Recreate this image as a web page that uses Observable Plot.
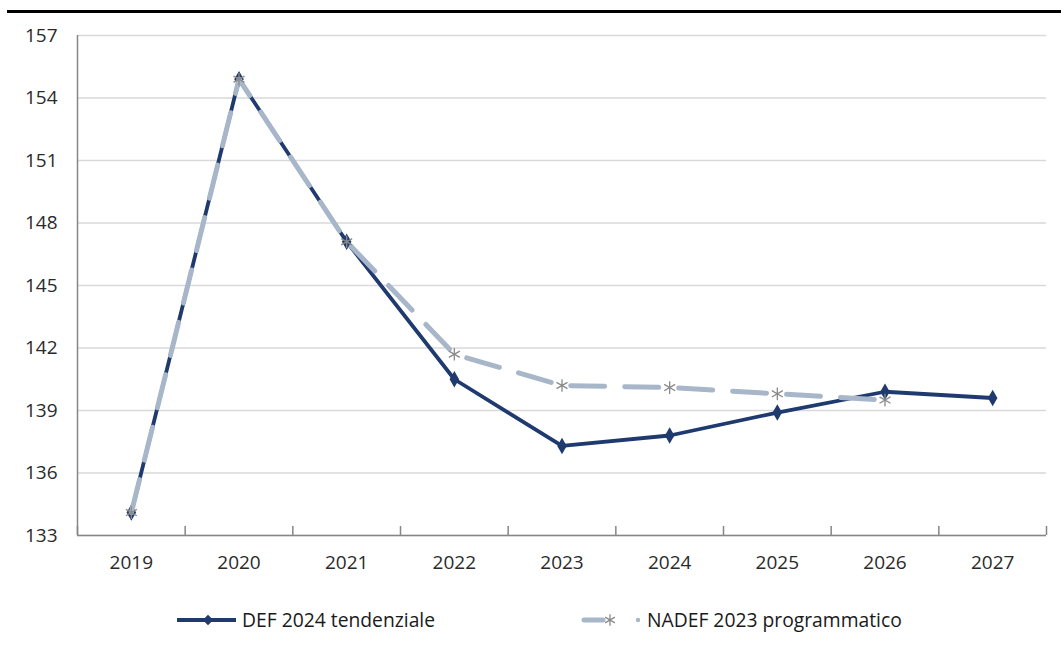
<!DOCTYPE html>
<html><head><meta charset="utf-8">
<script src="https://cdn.jsdelivr.net/npm/d3@7"></script>
<script src="https://cdn.jsdelivr.net/npm/@observablehq/plot@0.6"></script>
<style>
body{margin:0;background:#fff;font-family:"Open Sans",sans-serif;width:1061px;height:650px;position:relative;overflow:hidden;}
#rule{position:absolute;left:7px;right:0;top:10px;height:2.5px;background:#000;}
#chart{position:absolute;left:0;top:15px;}
#legend{position:absolute;top:600px;left:0;}
</style></head><body>
<div id="rule"></div><div id="chart"></div><svg id="legend" width="1061" height="40"></svg>
<script>
const years = [2019, 2020, 2021, 2022, 2023, 2024, 2025, 2026, 2027];
const def2024 = [134.1, 154.9, 147.1, 140.5, 137.3, 137.8, 138.9, 139.9, 139.6];
const nadef2023 = [134.1, 154.9, 147.1, 141.7, 140.2, 140.1, 139.8, 139.5];
const yTicks = [133, 136, 139, 142, 145, 148, 151, 154, 157];
const seriesNames = ["DEF 2024 tendenziale", "NADEF 2023 programmatico"];
const colors = {def: "#1f3a6e", nadef: "#a8b6ca", star: "#8a8a8a"};

const defData = years.map((yr, i) => ({year: yr, value: def2024[i]}));
const nadefData = nadef2023.map((v, i) => ({year: years[i], value: v}));
const x0 = years[0] - 0.5, x1 = years[years.length - 1] + 0.5;
const bounds = years.map(y => y - 0.5).concat([x1]);

const plot = Plot.plot({
  width: 1061, height: 575,
  marginTop: 20, marginBottom: 55, marginLeft: 77, marginRight: 15,
  style: {fontFamily: "Open Sans", fontSize: "19px", color: "#2a2a2a", background: "#fff"},
  x: {type: "linear", domain: [x0, x1]},
  y: {domain: [yTicks[0], yTicks[yTicks.length - 1]]},
  marks: [
    Plot.gridY(yTicks, {stroke: "#d9d9d9", strokeOpacity: 1, strokeWidth: 1.3}),
    Plot.axisY(yTicks, {tickSize: 0, tickPadding: 20, label: null, fill: "#2a2a2a"}),
    Plot.axisX(years, {tickSize: 0, tickPadding: 20, tickFormat: d => String(d), label: null, fill: "#2a2a2a"}),
    Plot.axisX(bounds, {tickSize: -9, tickFormat: () => "", stroke: "#868686", strokeWidth: 1.5, label: null}),
    Plot.ruleX([x0], {stroke: "#868686", strokeWidth: 1.5}),
    Plot.ruleY([yTicks[0]], {stroke: "#868686", strokeWidth: 1.5}),
    Plot.line(defData, {x: "year", y: "value", stroke: colors.def, strokeWidth: 3.8}),
    Plot.dot(defData, {x: "year", y: "value", symbol: "diamond", r: 5, fill: colors.def, stroke: "none"}),
    Plot.line(nadefData, {x: "year", y: "value", stroke: colors.nadef, strokeWidth: 5, strokeDasharray: "34,20", strokeLinecap: "round"}),
    Plot.dot(nadefData, {x: "year", y: "value", symbol: "asterisk", r: 6, stroke: colors.star, strokeWidth: 1.3})
  ]
});
document.getElementById("chart").appendChild(plot);

// Legend
const lg = d3.select("#legend");
const cy = 20;
lg.append("line").attr("x1", 177).attr("x2", 236).attr("y1", cy).attr("y2", cy)
  .attr("stroke", colors.def).attr("stroke-width", 4);
lg.append("path").attr("d", d3.symbol(d3.symbolDiamond2, 70)()).attr("transform", `translate(208,${cy})`)
  .attr("fill", colors.def);
lg.append("text").attr("x", 242).attr("y", cy).attr("dy", "0.35em").attr("font-size", 19.3)
  .attr("fill", "#1a1a1a").attr("font-family", "Open Sans").text(seriesNames[0]);
lg.append("line").attr("x1", 584).attr("x2", 603).attr("y1", cy).attr("y2", cy)
  .attr("stroke", colors.nadef).attr("stroke-width", 5).attr("stroke-linecap", "round");
lg.append("path").attr("d", d3.symbol(d3.symbolAsterisk, 90)()).attr("transform", `translate(610,${cy})`)
  .attr("stroke", colors.star).attr("stroke-width", 1.3).attr("fill", "none");
lg.append("circle").attr("cx", 638).attr("cy", cy).attr("r", 2.2).attr("fill", colors.nadef);
lg.append("text").attr("x", 647).attr("y", cy).attr("dy", "0.35em").attr("font-size", 19.3)
  .attr("fill", "#1a1a1a").attr("font-family", "Open Sans").text(seriesNames[1]);
</script>
</body></html>
